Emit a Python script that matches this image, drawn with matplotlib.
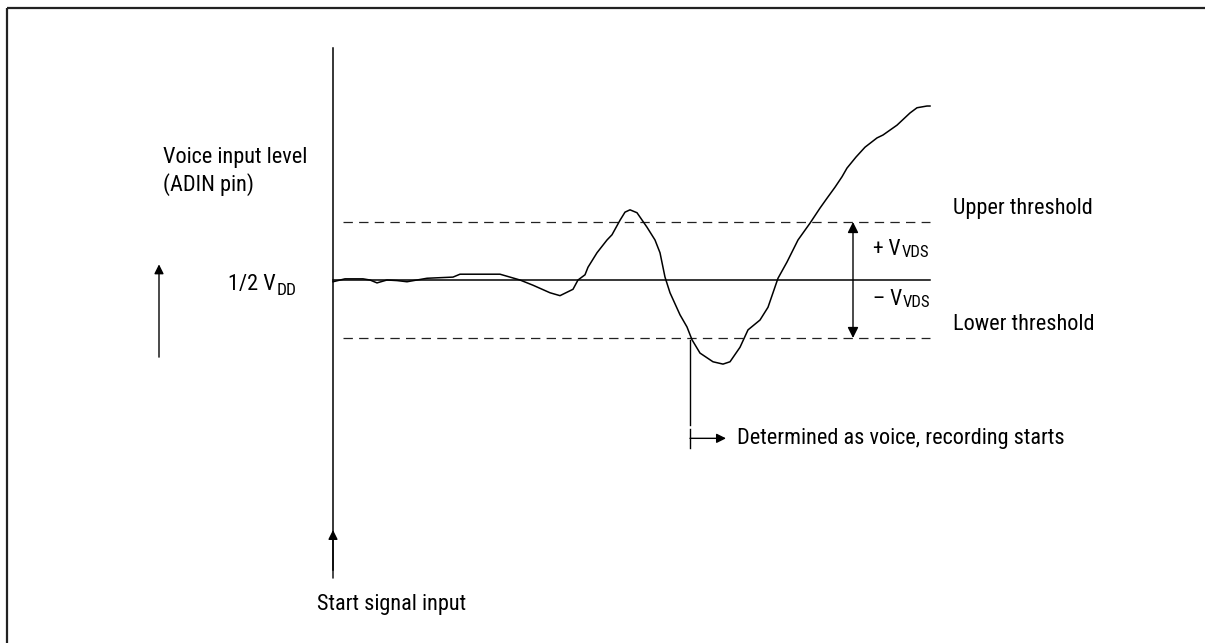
import matplotlib.pyplot as plt
import numpy as np

# voice waveform on ADIN: time after start signal vs. level around 1/2 VDD (in units of VDS)
t = [0, 12, 24, 30, 37, 44, 54, 64, 74, 84, 94, 107, 120, 127, 147, 167, 177, 187,
     200, 217, 227, 240, 245, 252, 255, 264, 274, 279, 287, 292, 297, 304, 314, 322,
     327, 332, 337, 347, 354, 359, 367, 380, 390, 397, 407, 415, 427, 435, 440, 445,
     454, 465, 477, 487, 494, 502, 509, 514, 523, 532, 544, 550, 564, 577, 584, 594, 597]
level = [-0.03, 0.02, 0.02, 0.02, 0.0, -0.05, 0.0, -0.01, -0.03, 0.0, 0.03, 0.04, 0.05,
         0.10, 0.10, 0.10, 0.05, 0.0, -0.09, -0.22, -0.27, -0.16, 0.0, 0.09, 0.22, 0.47,
         0.69, 0.78, 1.03, 1.17, 1.21, 1.16, 0.91, 0.69, 0.47, 0.05, -0.22, -0.60, -0.81,
         -1.03, -1.26, -1.41, -1.45, -1.41, -1.16, -0.86, -0.69, -0.47, -0.22, 0.03, 0.31,
         0.69, 0.98, 1.24, 1.41, 1.60, 1.78, 1.93, 2.12, 2.29, 2.45, 2.50, 2.67, 2.88,
         2.97, 3.00, 3.00]

upper_thr = 1.0
lower_thr = -1.0
t_detect = 357      # first crossing of lower threshold
t_end = 597

plt.rcParams['font.family'] = ['Roboto Condensed', 'DejaVu Sans']
FS = 16

fig = plt.figure(figsize=(12.05, 6.43), dpi=100)
ax = fig.add_axes([0, 0, 1, 1])
ax.set_xlim(-333, 872)
ax.set_ylim(-6.259, 4.828)
ax.axis('off')

k = 'black'
# frame (left and top edge)
ax.plot([-326, -326], [-6.3, 4.69], color='#222', lw=1.6, solid_capstyle='butt')
ax.plot([-326, 872], [4.69, 4.69], color='#222', lw=1.6, solid_capstyle='butt')

# time axis origin / 1/2 VDD reference
ax.plot([0, 0], [4.0, -5.0], color=k, lw=1.1)
ax.plot([0, t_end], [0, 0], color=k, lw=1.1)
for thr in (upper_thr, lower_thr):
    ax.plot([10, t_end], [thr, thr], color='#222', lw=0.9, dashes=(7.5, 5))

ax.plot(t, level, color=k, lw=1.1)

# detection marker
i = int(np.argmin(np.abs(np.array(t) - t_detect)))
ax.plot([t_detect, t_detect], [level[i], -2.5], color=k, lw=1.0)
ax.plot([t_detect, t_detect], [-2.57, -2.9], color=k, lw=1.0)
ax.annotate('', xy=(t_detect + 36, -2.73), xytext=(t_detect, -2.73),
            arrowprops=dict(arrowstyle='-|>', color=k, lw=1.0,
                            mutation_scale=14, shrinkA=0, shrinkB=0))
ax.text(t_detect + 47, -2.73, 'Determined as voice, recording starts',
        fontsize=FS, va='center', ha='left')

# +/- VDS double arrow
ax.annotate('', xy=(520, upper_thr), xytext=(520, lower_thr),
            arrowprops=dict(arrowstyle='<|-|>', color=k, lw=1.0,
                            mutation_scale=16, shrinkA=0, shrinkB=0))


def subscripted(x, y, main, sub, size=FS, subsize=12, va='baseline'):
    txt = ax.text(x, y, main, fontsize=size, ha='left', va='baseline')
    ax.annotate(sub, xy=(1, 0), xycoords=txt, xytext=(0.5, 0),
                textcoords='offset points', fontsize=subsize,
                ha='left', va=va)
    return txt


subscripted(540, 0.43, '+ V', 'VDS', size=15.5, subsize=12, va='bottom')
subscripted(540, -0.43, '\u2013 V', 'VDS', size=15.5, subsize=12, va='bottom')

ax.text(620, 1.0 + 0.13, 'Upper threshold', fontsize=FS, va='baseline', ha='left')
ax.text(620, -1.0 + 0.13, 'Lower threshold', fontsize=FS, va='baseline', ha='left')

# y-axis label and direction arrow
ax.text(-170, 2.3, 'Voice input level\n(ADIN pin)', fontsize=FS,
        va='top', ha='left', linespacing=1.3)
ax.annotate('', xy=(-174, 0.27), xytext=(-174, -1.33),
            arrowprops=dict(arrowstyle='-|>', color=k, lw=1.0,
                            mutation_scale=14, shrinkA=0, shrinkB=0))
subscripted(-105, -0.17, '1/2 V', 'DD', size=FS, subsize=12.5, va='baseline')

# start signal
ax.annotate('', xy=(0, -4.31), xytext=(0, -5.14),
            arrowprops=dict(arrowstyle='-|>', color=k, lw=1.0,
                            mutation_scale=14, shrinkA=0, shrinkB=0))
ax.text(-16, -5.69, 'Start signal input', fontsize=FS, va='baseline', ha='left')

fig.savefig('out.png', dpi=100, facecolor='white')
